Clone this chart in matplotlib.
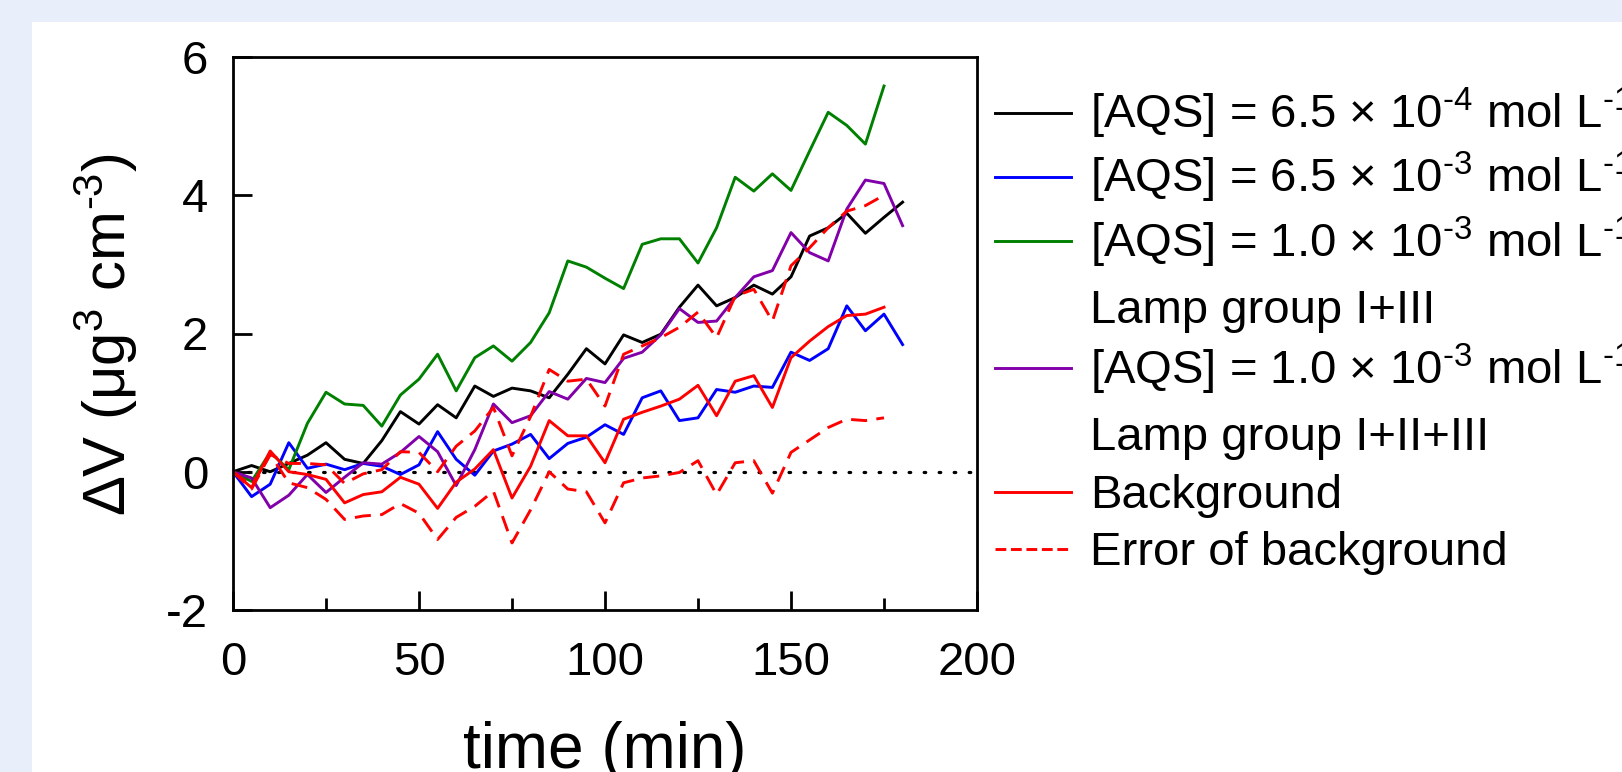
import matplotlib
matplotlib.use('Agg')
import matplotlib.pyplot as plt
from matplotlib.lines import Line2D
from matplotlib.patches import Rectangle

# Time axis (min)
time_min = [0, 5, 10, 15, 20, 25, 30, 35, 40, 45, 50, 55, 60, 65, 70, 75, 80, 85,
            90, 95, 100, 105, 110, 115, 120, 125, 130, 135, 140, 145, 150, 155,
            160, 165, 170, 175, 180]
time_short = time_min[:-1]

# Delta V (ug^3 cm^-3)
aqs_65e4 = [0.0, 0.09, 0.0, 0.12, 0.24, 0.42, 0.18, 0.12, 0.45, 0.87, 0.69, 0.97,
            0.78, 1.24, 1.09, 1.21, 1.17, 1.07, 1.41, 1.78, 1.56, 1.98, 1.87, 1.99,
            2.38, 2.70, 2.40, 2.52, 2.70, 2.57, 2.82, 3.41, 3.53, 3.74, 3.45, 3.68, 3.90]
aqs_65e3 = [0.0, -0.36, -0.18, 0.42, 0.05, 0.11, 0.03, 0.12, 0.08, -0.04, 0.10, 0.58,
            0.18, -0.05, 0.30, 0.40, 0.54, 0.19, 0.41, 0.50, 0.68, 0.54, 1.07, 1.17,
            0.74, 0.78, 1.19, 1.15, 1.24, 1.22, 1.73, 1.61, 1.78, 2.40, 2.04, 2.28, 1.84]
aqs_10e3_lamp13 = [0.0, -0.14, 0.28, 0.03, 0.70, 1.15, 0.98, 0.96, 0.66, 1.11, 1.34,
                   1.70, 1.17, 1.65, 1.82, 1.60, 1.87, 2.30, 3.05, 2.96, 2.80, 2.65,
                   3.29, 3.37, 3.37, 3.02, 3.53, 4.26, 4.06, 4.31, 4.07, 4.64, 5.20,
                   5.01, 4.74, 5.58]
aqs_10e3_lamp123 = [0.0, -0.09, -0.52, -0.34, -0.04, -0.30, -0.08, 0.13, 0.11, 0.28,
                    0.51, 0.29, -0.20, 0.32, 0.98, 0.71, 0.81, 1.16, 1.05, 1.35, 1.29,
                    1.64, 1.73, 1.98, 2.36, 2.16, 2.18, 2.52, 2.82, 2.91, 3.46, 3.17,
                    3.05, 3.80, 4.22, 4.17, 3.56]
background = [0.0, -0.23, 0.30, 0.0, -0.04, -0.11, -0.45, -0.33, -0.29, -0.08, -0.18,
              -0.53, -0.15, 0.04, 0.32, -0.38, 0.08, 0.74, 0.52, 0.52, 0.13, 0.76,
              0.86, 0.95, 1.05, 1.25, 0.81, 1.31, 1.39, 0.93, 1.65, 1.89, 2.10, 2.26,
              2.28, 2.38]
bg_err_upper = [0.0, -0.20, 0.25, 0.12, 0.12, 0.10, -0.17, -0.03, 0.03, 0.29, 0.28,
                0.0, 0.37, 0.59, 0.93, 0.23, 0.80, 1.48, 1.31, 1.34, 0.95, 1.70, 1.82,
                1.94, 2.09, 2.31, 1.94, 2.54, 2.64, 2.18, 2.98, 3.24, 3.53, 3.77,
                3.85, 4.00]
bg_err_lower = [0.0, -0.25, 0.25, -0.16, -0.23, -0.40, -0.69, -0.64, -0.62, -0.46,
                -0.60, -0.98, -0.66, -0.50, -0.28, -1.03, -0.55, 0.0, -0.25, -0.29,
                -0.74, -0.16, -0.09, -0.06, -0.01, 0.16, -0.33, 0.13, 0.16, -0.31,
                0.28, 0.46, 0.64, 0.76, 0.74, 0.78]

HY = '\u2010'  # short hyphen for the exponents
legend_labels = ['[AQS] = 6.5 \u00d7 10$^{' + HY + '4}$ mol L$^{' + HY + '1}$',
                 '[AQS] = 6.5 \u00d7 10$^{' + HY + '3}$ mol L$^{' + HY + '1}$',
                 '[AQS] = 1.0 \u00d7 10$^{' + HY + '3}$ mol L$^{' + HY + '1}$',
                 'Lamp group I+III',
                 '[AQS] = 1.0 \u00d7 10$^{' + HY + '3}$ mol L$^{' + HY + '1}$',
                 'Lamp group I+II+III',
                 'Background',
                 'Error of background']

plt.rcParams['font.family'] = ['Liberation Sans', 'DejaVu Sans']
plt.rcParams['mathtext.fontset'] = 'custom'
plt.rcParams['mathtext.rm'] = 'Liberation Sans'
plt.rcParams['mathtext.it'] = 'Liberation Sans:italic'
plt.rcParams['mathtext.bf'] = 'Liberation Sans:bold'
plt.rcParams['mathtext.default'] = 'regular'
plt.rcParams['axes.unicode_minus'] = False

W, H = 1622, 772


def px(x, y):
    # pixel position (from top-left) -> figure fraction
    return x / W, 1 - y / H


fig = plt.figure(figsize=(W / 100, H / 100), dpi=100, facecolor='#e8eefa')
# white panel
fig.add_artist(Rectangle((32 / W, 0), 1, (H - 22) / H, transform=fig.transFigure,
                         facecolor='white', edgecolor='none', zorder=-1))

ax = fig.add_axes([233 / W, (H - 610) / H, 744 / W, 553 / H])

lw = 2.1
dash = (0, (5.5, 3.2))
ax.axhline(0, color='black', lw=2.3, ls=(0, (0.5, 4.2)), dash_capstyle='round', zorder=1)
l1, = ax.plot(time_min, aqs_65e4, color='black', lw=lw)
l2, = ax.plot(time_min, aqs_65e3, color='#0000ff', lw=lw)
l3, = ax.plot(time_short, aqs_10e3_lamp13, color='#008000', lw=lw)
l4, = ax.plot(time_min, aqs_10e3_lamp123, color='#8200aa', lw=lw)
l5, = ax.plot(time_short, background, color='#ff0000', lw=lw)
l6, = ax.plot(time_short, bg_err_upper, color='#ff0000', lw=lw, ls=dash)
ax.plot(time_short, bg_err_lower, color='#ff0000', lw=lw, ls=dash)

ax.set_xlim(0, 200)
ax.set_ylim(-2, 6)
ax.set_xticks([0, 50, 100, 150, 200])
ax.set_xticks([25, 75, 125, 175], minor=True)
ax.set_yticks([-2, 0, 2, 4, 6])
ax.tick_params(which='both', direction='in', width=2, labelsize=34)
ax.tick_params(axis='x', pad=22)
ax.tick_params(axis='y', pad=18)
ax.tick_params(which='major', length=14)
ax.tick_params(which='minor', length=8.5)
for s in ax.spines.values():
    s.set_linewidth(2)

ax.set_xlabel('time (min)', fontsize=46)
ax.xaxis.set_label_coords(0.5, -0.20)
ax.set_ylabel('$\\Delta$V (\u03bcg$^3$ cm$^{' + HY + '3}$)', fontsize=43)
ax.yaxis.set_label_coords(-0.125, 0.498)

# legend drawn row by row so the spacing follows the reference
row_y = [112.7, 176.7, 241, 307, 368.3, 434, 491.7, 549.3]
handles = [l1, l2, l3, None, l4, None, l5, l6]
for y, h, lab in zip(row_y, handles, legend_labels):
    if h is not None:
        (x0, yf), (x1, _) = px(995, y), px(1071, y)
        fig.add_artist(Line2D([x0, x1], [yf, yf], transform=fig.transFigure,
                              color=h.get_color(), lw=lw, ls=h.get_linestyle()))
    tx, ty = px(1090, y + 16)
    fig.text(tx, ty, lab, fontsize=34, ha='left', va='baseline')

fig.savefig('out.png', dpi=100, facecolor=fig.get_facecolor())
